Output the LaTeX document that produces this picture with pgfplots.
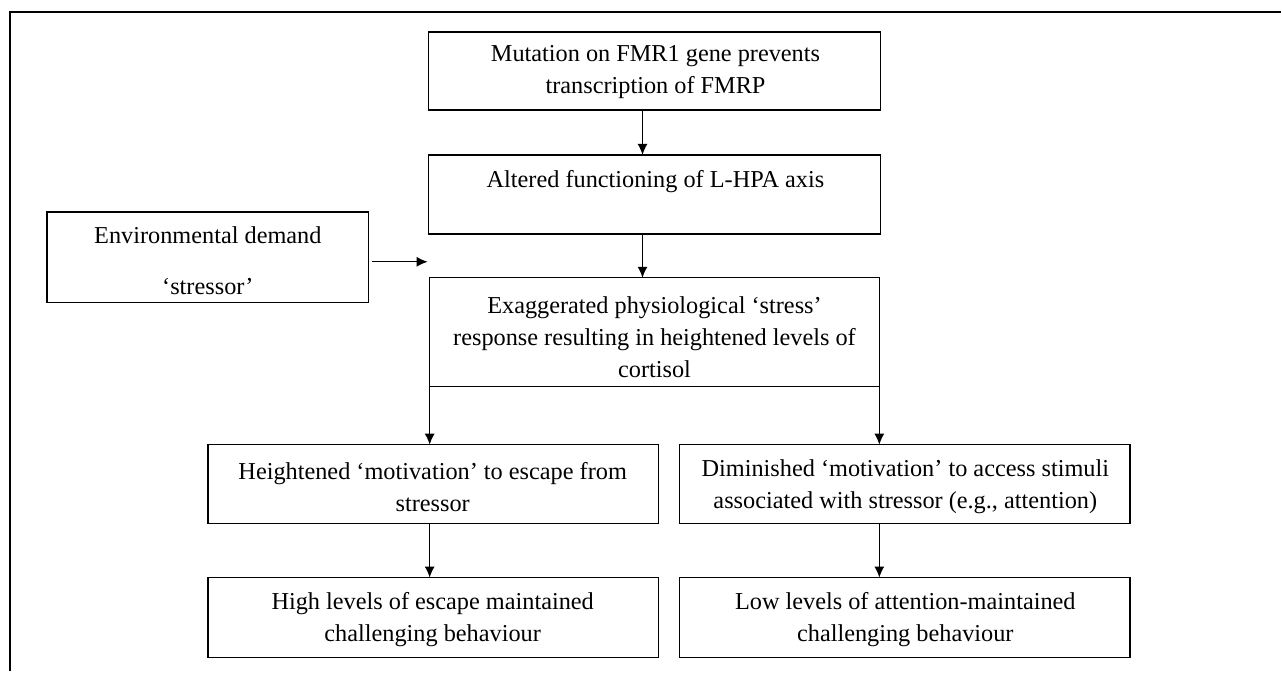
\documentclass[border=0pt]{standalone}
\usepackage{pgfplots}
\pgfplotsset{compat=1.18}
\usepackage{fontspec}
\setmainfont{Liberation Serif}
\usetikzlibrary{arrows.meta}
\begin{document}
\begin{tikzpicture}
\begin{axis}[
  width=641pt, height=336pt, scale only axis,
  xmin=0, xmax=1282, ymin=0, ymax=672, y dir=reverse,
  hide axis, clip=false,
]
\path (axis cs:0,0) rectangle (axis cs:1282,672);
% outer frame (top and left)
\draw[line width=1pt] (axis cs:10,672) -- (axis cs:10,12) -- (axis cs:1282,12);
\tikzset{bx/.style={draw=black, line width=0.7pt},
         tx/.style={font=\fontsize{12.15}{16}\selectfont, align=center, inner sep=0pt},
         ar/.style={line width=0.6pt, -{Latex[length=5.5pt,width=5pt]}}}
% boxes
\draw[bx] (axis cs:429,32) rectangle (axis cs:881,110);
\draw[bx] (axis cs:429,155) rectangle (axis cs:881,234);
\draw[bx] (axis cs:47,212) rectangle (axis cs:369,303);
\draw[bx] (axis cs:430,278) rectangle (axis cs:880,387);
\draw[bx] (axis cs:208,445) rectangle (axis cs:659,524);
\draw[bx] (axis cs:680,445) rectangle (axis cs:1131,524);
\draw[bx] (axis cs:208,578) rectangle (axis cs:659,658);
\draw[bx] (axis cs:680,578) rectangle (axis cs:1131,658);
% arrows
\draw[ar] (axis cs:643,110) -- (axis cs:643,155);
\draw[ar] (axis cs:643,234) -- (axis cs:643,278);
\draw[ar] (axis cs:372,262) -- (axis cs:428,262);
\draw[ar] (axis cs:430,387) -- (axis cs:430,445);
\draw[ar] (axis cs:880,387) -- (axis cs:880,445);
\draw[ar] (axis cs:430,524) -- (axis cs:430,578);
\draw[ar] (axis cs:880,524) -- (axis cs:880,578);
% texts
\node[tx] at (axis cs:656,72) {Mutation on FMR1 gene prevents\\transcription of FMRP};
\node[tx] at (axis cs:656,182) {Altered functioning of L-HPA axis};
\node[tx] at (axis cs:208,235) {Environmental demand};
\node[tx] at (axis cs:208,287) {‘stressor’};
\node[tx] at (axis cs:655,337) {Exaggerated physiological ‘stress’\\response resulting in heightened levels of\\cortisol};
\node[tx] at (axis cs:433,487) {Heightened ‘motivation’ to escape from\\stressor};
\node[tx] at (axis cs:906,487) {Diminished ‘motivation’ to access stimuli\\associated with stressor (e.g., attention)};
\node[tx] at (axis cs:433,620) {High levels of escape maintained\\challenging behaviour};
\node[tx] at (axis cs:906,620) {Low levels of attention-maintained\\challenging behaviour};
\end{axis}
\end{tikzpicture}
\end{document}
